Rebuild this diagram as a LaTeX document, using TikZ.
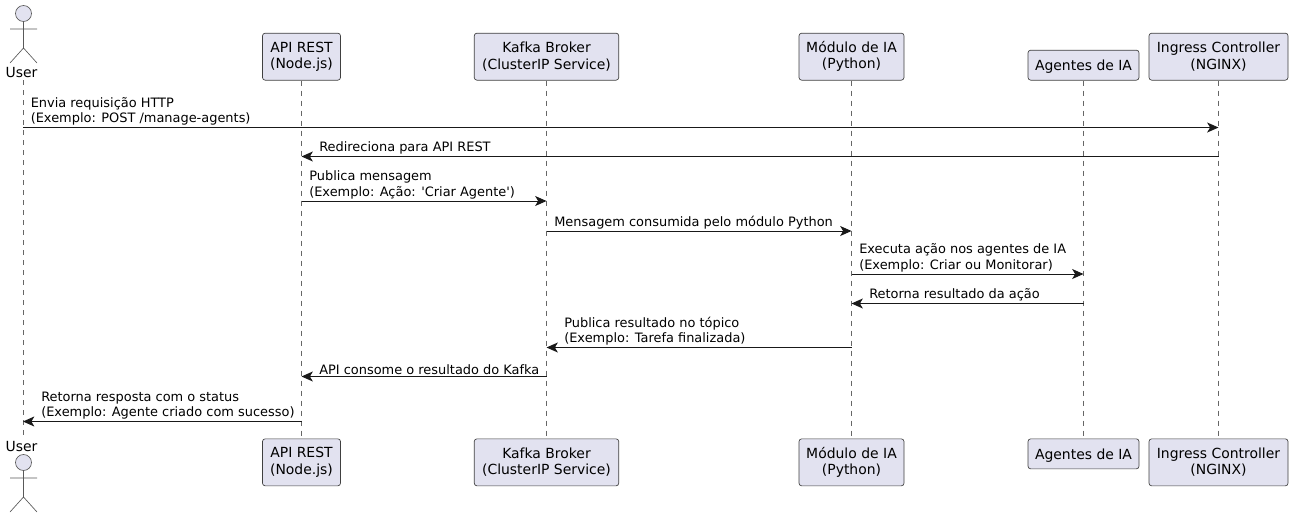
\documentclass[tikz,border=0pt]{standalone}
\usepackage{fontspec}
\setmainfont{DejaVu Sans}
\newfontfamily\msgfont{DejaVu Sans}
\usetikzlibrary{arrows.meta}
\newcommand{\px}{.75pt}
\tikzset{>={Stealth[width=7.5pt,length=8.5pt,inset=2.2pt]}}
\tikzset{box/.style={shape=rectangle, draw=black!75, fill=boxfill, rounded corners=2pt,
    line width=.5pt, inner sep=0pt, align=center, font=\fontsize{10.45}{12.2}\selectfont,
    execute at begin node={\rule{0pt}{10pt}}}}
\tikzset{life/.style={draw=black!60, line width=.38pt, dash pattern=on 3.75pt off 3.75pt}}
\tikzset{msg/.style={->, draw=black!90, line width=.75pt}}
\tikzset{txt/.style={inner sep=0pt, align=left, anchor=south west, font=\msgfont\fontsize{9.7}{11.4}\selectfont}}
\tikzset{stick/.style={draw=black!65, line width=.5pt}}
\definecolor{boxfill}{HTML}{E2E2F0}

\begin{document}
\begin{tikzpicture}[x=\px, y=-\px]
    \useasboundingbox (0,0) rectangle (1293,518);

    % lifelines first, boxes sit on top
    \coordinate (userT) at (23,80);
    \coordinate (userB) at (23,437);
    \foreach \a/\x/\w/\h/\t in {api/301.5/78/47/{API REST\\(Node.js)},
        kafka/546.5/144.5/47/{Kafka Broker\\(ClusterIP Service)},
        ia/851.5/105/47/{Módulo de IA\\(Python)},
        agentes/1083.5/111/30/{Agentes de IA},
        ingress/1218.5/139/47/{Ingress Controller\\(NGINX)}} {
      \node[box, anchor=south, minimum width=\w*\px, minimum height=\h*\px] (\a T) at (\x,80.5) {\t};
      \node[box, anchor=north, minimum width=\w*\px, minimum height=\h*\px] (\a B) at (\x,438.5) {\t};
      \path[life] (\a T) -- (\a B);
    }
    \path[life] (userT) -- (userB);

    % actor, top and bottom
    \node[font=\fontsize{10.45}{12.2}\selectfont, inner sep=0pt] (userlabelT) at (21.5,73) {User};
    \node[font=\fontsize{10.45}{12.2}\selectfont, inner sep=0pt] (userlabelB) at (21.5,446.5) {User};
    \node[shape=circle, stick, fill=boxfill, inner sep=0pt, minimum size=12pt] (headT) at (23.5,13.5) {};
    \node[shape=circle, stick, fill=boxfill, inner sep=0pt, minimum size=12pt] (headB) at (23.5,462.5) {};
    \draw[stick] (headT.south) -- (23.5,48) -- (10,63) (23.5,48) -- (37,63) (10,29) -- (37,29);
    \draw[stick] (headB.south) -- (23.5,497) -- (10,512) (23.5,497) -- (37,512) (10,478) -- (37,478);

    % message rows
    \foreach \a/\x in {user/23,api/301.5,kafka/546.5,ia/851.5,agentes/1083.5,ingress/1218.5}
    \foreach \r/\y in {1/127.5,2/156.5,3/201,4/231,5/274,6/303.5,7/347.5,8/376.5,9/421.5}
    \coordinate (\a\r) at (\x,\y);

    \path (user1) edge[msg] (ingress1);
    \node[txt] (m1) at ([xshift=7.5*\px,yshift=2*\px]user1) {Envia requisição HTTP\\(Exemplo: POST /manage-agents)};
    \path (ingress2) edge[msg] (api2);
    \node[txt] (m2) at ([xshift=17.5*\px,yshift=2*\px]api2) {Redireciona para API REST};
    \path (api3) edge[msg] (kafka3);
    \node[txt] (m3) at ([xshift=7.5*\px,yshift=2*\px]api3) {Publica mensagem\\(Exemplo: Ação: 'Criar Agente')};
    \path (kafka4) edge[msg] (ia4);
    \node[txt] (m4) at ([xshift=7.5*\px,yshift=2*\px]kafka4) {Mensagem consumida pelo módulo Python};
    \path (ia5) edge[msg] (agentes5);
    \node[txt] (m5) at ([xshift=7.5*\px,yshift=2*\px]ia5) {Executa ação nos agentes de IA\\(Exemplo: Criar ou Monitorar)};
    \path (agentes6) edge[msg] (ia6);
    \node[txt] (m6) at ([xshift=17.5*\px,yshift=2*\px]ia6) {Retorna resultado da ação};
    \path (ia7) edge[msg] (kafka7);
    \node[txt] (m7) at ([xshift=17.5*\px,yshift=2*\px]kafka7) {Publica resultado no tópico\\(Exemplo: Tarefa finalizada)};
    \path (kafka8) edge[msg] (api8);
    \node[txt] (m8) at ([xshift=17.5*\px,yshift=2*\px]api8) {API consome o resultado do Kafka};
    \path (api9) edge[msg] (user9);
    \node[txt] (m9) at ([xshift=18*\px,yshift=2*\px]user9) {Retorna resposta com o status\\(Exemplo: Agente criado com sucesso)};
  \end{tikzpicture}
\end{document}
